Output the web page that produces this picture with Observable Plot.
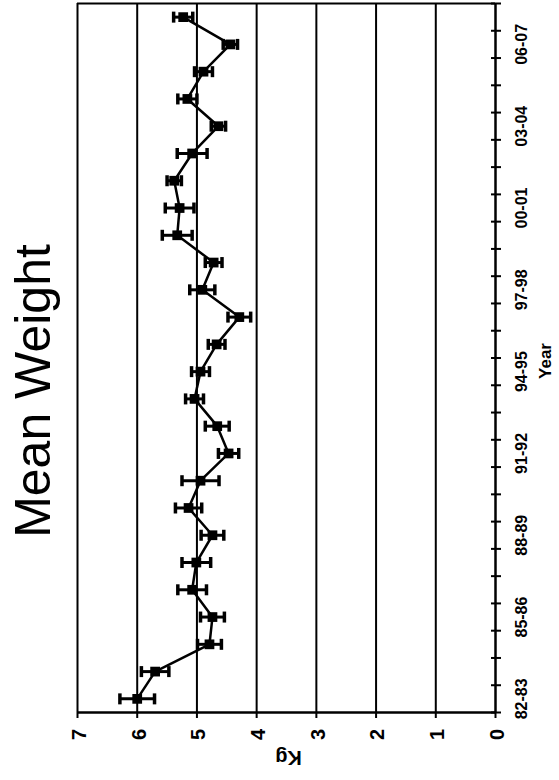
<!DOCTYPE html>
<html><head><meta charset="utf-8">
<script src="https://cdn.jsdelivr.net/npm/d3@7"></script>
<script src="https://cdn.jsdelivr.net/npm/@observablehq/plot@0.6"></script>
<style>html,body{margin:0;padding:0;background:#fff} svg{display:block}</style>
</head><body><div id="chart"></div>
<script>
const years = ["82-83","83-84","84-85","85-86","86-87","87-88","88-89","89-90","90-91","91-92","92-93","93-94","94-95","95-96","96-97","97-98","98-99","99-00","00-01","01-02","02-03","03-04","04-05","05-06","06-07","07-08"];
const meanKg = [6.00,5.70,4.79,4.74,5.08,5.01,4.74,5.14,4.94,4.47,4.66,5.04,4.94,4.67,4.29,4.91,4.72,5.33,5.29,5.38,5.08,4.64,5.16,4.89,4.44,5.23];
const errKg  = [0.29,0.23,0.20,0.20,0.24,0.24,0.19,0.22,0.31,0.17,0.20,0.15,0.15,0.14,0.19,0.21,0.14,0.25,0.24,0.12,0.25,0.12,0.16,0.15,0.12,0.16];
const kgTicks = [0,1,2,3,4,5,6,7];
const labelledYears = ["82-83","85-86","88-89","91-92","94-95","97-98","00-01","03-04","06-07"];
const title = "Mean Weight";
const xLabel = "Year";
const yLabel = "Kg";

const rows = years.map((year, i) => ({year, pos: i + 0.5, kg: meanKg[i], lo: meanKg[i] - errKg[i], hi: meanKg[i] + errKg[i]}));
const boundaries = d3.range(years.length + 1);
const labelRows = labelledYears.map(y => ({year: y, pos: years.indexOf(y) + 0.5}));

const capSymbol = {draw(ctx, size) { const r = Math.sqrt(size / Math.PI); ctx.moveTo(0, -r); ctx.lineTo(0, r); }};
const font = "'Liberation Sans', Arial, sans-serif";

const chart = Plot.plot({
  width: 559, height: 780,
  marginLeft: 77, marginRight: 64, marginTop: 3, marginBottom: 68,
  style: {fontFamily: font, background: "#fff", color: "#000"},
  x: {domain: [7, 0], axis: null},
  y: {domain: [0, years.length], axis: null},
  marks: [
    Plot.ruleX(kgTicks.filter(d => d > 0), {x: d => d, stroke: "#000", strokeWidth: 2}),
    Plot.ruleY([years.length], {y: d => d, stroke: "#000", strokeWidth: 2}),
    Plot.ruleY([0], {y: d => d, stroke: "#000", strokeWidth: 2.5}),
    Plot.ruleX([0], {x: d => d, stroke: "#000", strokeWidth: 2.5}),
    Plot.axisX({anchor: "bottom", ticks: kgTicks, tickSize: 6, tickFormat: () => "", stroke: "#000", strokeWidth: 2, label: null}),
    Plot.axisY({anchor: "right", ticks: boundaries, tickSize: 10, dx: -5, tickFormat: () => "", stroke: "#000", strokeWidth: 2, label: null}),
    Plot.text(kgTicks, {x: d => d, text: d => String(d), frameAnchor: "bottom", dx: 2, dy: 22, rotate: -90, fontSize: 20, fontWeight: "bold", lineAnchor: "middle", textAnchor: "middle", fill: "#000"}),
    Plot.text(labelRows, {x: () => 0, y: "pos", text: "year", dx: 26, rotate: -90, fontSize: 16, fontWeight: "bold", lineAnchor: "middle", textAnchor: "middle", fill: "#000"}),
    Plot.text([xLabel], {text: d => d, frameAnchor: "right", dx: 50, dy: 3, rotate: -90, fontSize: 17, fontWeight: "bold", lineAnchor: "middle", textAnchor: "middle", fill: "#000"}),
    Plot.text([yLabel], {text: d => d, frameAnchor: "bottom", dx: 2, dy: 45, rotate: 180, fontSize: 20, fontWeight: "bold", lineAnchor: "middle", textAnchor: "middle", fill: "#000"}),
    Plot.text([title], {text: d => d, frameAnchor: "left", dx: -44, dy: 33, rotate: -90, fontSize: 50, lineAnchor: "middle", textAnchor: "middle", fill: "#000"}),
    Plot.ruleY(rows, {y: "pos", x1: "lo", x2: "hi", stroke: "#000", strokeWidth: 3}),
    Plot.dot(rows, {x: "lo", y: "pos", symbol: capSymbol, r: 5.5, stroke: "#000", strokeWidth: 3.5}),
    Plot.dot(rows, {x: "hi", y: "pos", symbol: capSymbol, r: 5.5, stroke: "#000", strokeWidth: 3.5}),
    Plot.line(rows, {x: "kg", y: "pos", stroke: "#000", strokeWidth: 2.5}),
    Plot.dot(rows, {x: "kg", y: "pos", symbol: "square", r: 5.5, fill: "#000", stroke: "none"})
  ]
});
document.getElementById("chart").appendChild(chart);
</script>
</body></html>
